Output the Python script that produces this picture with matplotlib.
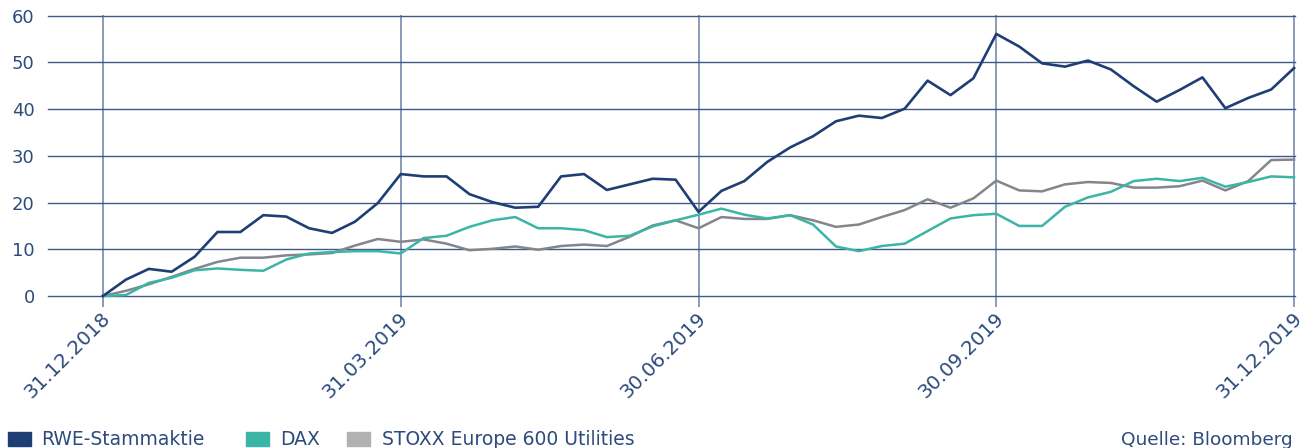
import numpy as np
import matplotlib
matplotlib.use("Agg")
import matplotlib.pyplot as plt
from matplotlib.patches import Rectangle
from matplotlib.transforms import ScaledTranslation

# weekly performance in %, 31.12.2018 - 31.12.2019
tick_labels = ["31.12.2018", "31.03.2019", "30.06.2019", "30.09.2019", "31.12.2019"]
tick_weeks = [0, 13, 26, 39, 52]
series_names = ["RWE-Stammaktie", "DAX", "STOXX Europe 600 Utilities"]

rwe = [0, 3.5, 5.8, 5.2, 8.4, 13.7, 13.7, 17.3, 17.0, 14.5, 13.5, 15.9, 19.9, 26.1,
       25.6, 25.6, 21.8, 20.1, 18.9, 19.1, 25.6, 26.1, 22.7, 23.9, 25.1, 24.9, 18.0,
       22.5, 24.6, 28.7, 31.8, 34.2, 37.4, 38.6, 38.1, 40.1, 46.1, 43.0, 46.6, 56.1,
       53.4, 49.8, 49.1, 50.4, 48.5, 44.9, 41.6, 44.1, 46.8, 40.2, 42.4, 44.2, 48.8]
dax = [0, 0.2, 2.8, 3.9, 5.5, 5.9, 5.6, 5.4, 7.8, 9.1, 9.4, 9.6, 9.6, 9.1,
       12.4, 12.9, 14.8, 16.2, 16.9, 14.5, 14.5, 14.1, 12.6, 12.9, 14.9, 16.2, 17.4,
       18.7, 17.4, 16.6, 17.3, 15.3, 10.6, 9.6, 10.7, 11.2, 13.9, 16.6, 17.3, 17.6,
       15.0, 15.0, 19.1, 21.1, 22.3, 24.6, 25.1, 24.6, 25.3, 23.4, 24.4, 25.6, 25.4]
stoxx = [0, 1.1, 2.5, 4.1, 5.8, 7.3, 8.2, 8.2, 8.7, 8.9, 9.2, 10.8, 12.2, 11.6,
         12.1, 11.2, 9.8, 10.1, 10.6, 9.9, 10.7, 11.0, 10.7, 12.7, 15.1, 16.2, 14.5,
         16.9, 16.5, 16.5, 17.3, 16.2, 14.8, 15.3, 16.9, 18.4, 20.7, 18.9, 20.9, 24.7,
         22.6, 22.4, 23.9, 24.4, 24.2, 23.2, 23.2, 23.5, 24.7, 22.6, 24.6, 29.1, 29.2]
weeks = np.arange(len(rwe))

navy = "#1f3f74"
teal = "#3bb5a6"
grey_line = "#85858b"
grey_patch = "#b1b1b1"
txt = "#2d4b7c"
hgrid = "#3f5885"
vgrid = "#8a9ab8"

plt.rcParams["font.family"] = ["DejaVu Sans"]

W, H = 1305, 448
fig = plt.figure(figsize=(W / 100, H / 100), dpi=100)
ax = fig.add_axes([48 / W, 1 - 296 / H, (1295 - 48) / W, (296 - 15.7) / H])

ax.plot(weeks, stoxx, color=grey_line, lw=1.8, clip_on=False, zorder=3)
ax.plot(weeks, dax, color=teal, lw=1.8, clip_on=False, zorder=3)
ax.plot(weeks, rwe, color=navy, lw=1.9, clip_on=False, zorder=4)

ax.set_xlim(-2.4, 52.04)
ax.set_ylim(0, 60)
ax.set_yticks(range(0, 61, 10))
ax.set_xticks(tick_weeks)
ax.set_xticklabels(tick_labels, rotation=45, ha="right", va="top",
                   rotation_mode="anchor")

for s in ax.spines.values():
    s.set_visible(False)
ax.set_axisbelow(True)
ax.yaxis.grid(True, color=hgrid, lw=1.0)
ax.xaxis.grid(True, color=vgrid, lw=1.4)
for gl in ax.get_ygridlines() + ax.get_xgridlines():
    gl.set_clip_on(False)
ax.tick_params(axis="y", length=0, pad=9.5, labelsize=13, labelcolor=txt)
ax.tick_params(axis="x", length=8, width=1.4, color=vgrid, pad=1,
               labelsize=14.2, labelcolor=txt)

shift = ScaledTranslation(-2 / 100, 0, fig.dpi_scale_trans)
for lab in ax.get_xticklabels():
    lab.set_transform(lab.get_transform() + shift)

# legend drawn by hand in figure pixels (reference spacing is uneven)
swatch_x = [8, 246, 347]
label_x = [41.5, 280, 381.5]
for sx, lx, c, n in zip(swatch_x, label_x, [navy, teal, grey_patch], series_names):
    fig.patches.append(Rectangle((sx / W, 2 / H), 23 / W, 14 / H, color=c,
                                 transform=fig.transFigure, figure=fig))
    fig.text(lx / W, 3 / H, n, ha="left", va="baseline", fontsize=13.5, color=txt)

fig.text(1293 / W, 3 / H, "Quelle: Bloomberg", ha="right", va="baseline",
         fontsize=13.3, color=txt)

fig.savefig("out.png", dpi=100)
